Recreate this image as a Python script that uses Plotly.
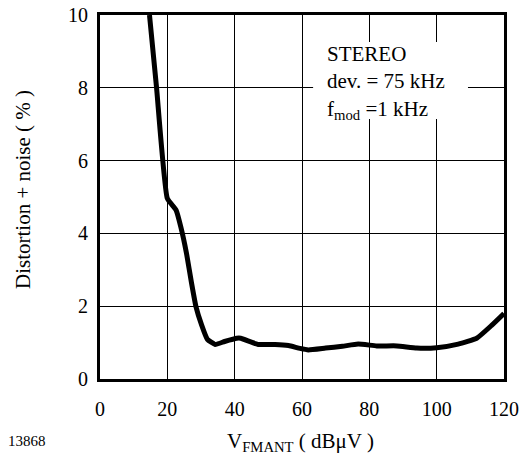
import plotly.graph_objects as go

# Data
v_fmant = [14.7, 16.8, 20.0, 22.6, 24.0, 25.7, 27.2, 28.5, 30.2, 31.9, 34.2, 37.0, 40.6, 41.8,
           47.0, 52.0, 56.0, 59.4, 61.9, 67.0, 72.0, 76.7, 82.2, 88.2, 94.1, 100.0, 106.4,
           111.9, 116.4, 120.0]
distortion = [10.0, 8.0, 4.96, 4.64, 4.18, 3.45, 2.63, 1.99, 1.48, 1.09, 0.95, 1.03, 1.12, 1.12,
              0.95, 0.95, 0.92, 0.84, 0.80, 0.85, 0.90, 0.96, 0.91, 0.91, 0.85, 0.86, 0.96,
              1.12, 1.48, 1.80]
x_ticks = [0, 20, 40, 60, 80, 100, 120]
y_ticks = [0, 2, 4, 6, 8, 10]

FONT = "Liberation Serif, Times New Roman, serif"

fig = go.Figure()
fig.add_trace(go.Scatter(x=v_fmant, y=distortion, mode="lines",
                         line=dict(color="black", width=5, shape="spline", smoothing=0.4),
                         showlegend=False, hoverinfo="skip"))

# white background behind the condition text (breaks the grid lines)
fig.add_shape(type="rect", xref="x", yref="y", x0=63.3, x1=109.3, y0=7.14, y1=9.26,
              fillcolor="white", line=dict(width=0), layer="between")

fig.add_annotation(x=66.8, y=8.14, xref="x", yref="y", xanchor="left", yanchor="middle",
                   text="STEREO<br>dev. = 75 kHz<br>f<sub>mod</sub> =1 kHz",
                   showarrow=False, align="left",
                   font=dict(family=FONT, size=21, color="black"))

fig.add_annotation(x=-77 / 404, y=189 / 364, xref="paper", yref="paper",
                   xanchor="center", yanchor="middle",
                   text="Distortion + noise ( % )", textangle=-90, showarrow=False,
                   font=dict(family=FONT, size=21, color="black"))
fig.add_annotation(x=200 / 404, y=-63 / 364, xref="paper", yref="paper",
                   xanchor="center", yanchor="middle",
                   text="V<sub>FMANT</sub> ( dBμV )", showarrow=False,
                   font=dict(family=FONT, size=21, color="black"))
fig.add_annotation(x=-73 / 404, y=-62 / 364, xref="paper", yref="paper",
                   xanchor="center", yanchor="middle",
                   text="13868", showarrow=False,
                   font=dict(family=FONT, size=15, color="black"))

fig.update_layout(
    width=524, height=456,
    margin=dict(l=100, r=20, t=15, b=77, autoexpand=False),
    paper_bgcolor="white", plot_bgcolor="white",
    font=dict(family=FONT, size=20, color="black"),
    xaxis=dict(range=[0, 120], tickvals=x_ticks, showgrid=True, gridcolor="black", gridwidth=1,
               zeroline=False, showline=True, linecolor="black", linewidth=3, mirror=True,
               ticks="outside", ticklen=10, tickcolor="rgba(0,0,0,0)", automargin=False,
               ticklabeloverflow="allow", tickfont=dict(family=FONT, size=20)),
    yaxis=dict(range=[0, 10], tickvals=y_ticks, showgrid=True, gridcolor="black", gridwidth=1,
               zeroline=False, showline=True, linecolor="black", linewidth=3, mirror=True,
               ticks="outside", ticklen=5, tickcolor="rgba(0,0,0,0)", automargin=False,
               ticklabeloverflow="allow", tickfont=dict(family=FONT, size=20)),
)

fig.write_html("out.html", config={"displayModeBar": False},
               post_script="document.body.style.margin='0';document.body.style.overflow='hidden';")
